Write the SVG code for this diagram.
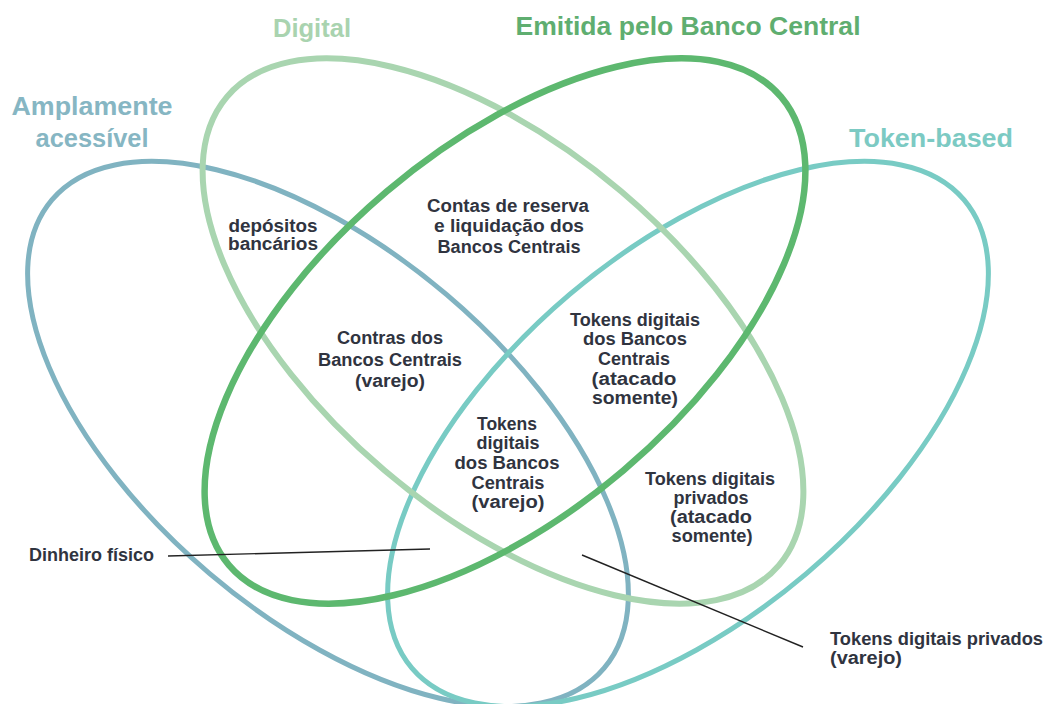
<svg xmlns="http://www.w3.org/2000/svg" width="1051" height="704" viewBox="0 0 1051 704">
<style>
.set{fill:none}
.title{font-family:"Liberation Sans",Arial,sans-serif;font-weight:bold;font-size:25px;text-anchor:middle}
.lbl{font-family:"Liberation Sans",Arial,sans-serif;font-weight:bold;font-size:17.5px;fill:#30343f;text-anchor:middle}
.lbl-l{text-anchor:start}
.ptr{stroke:#222;stroke-width:1.4;fill:none}
</style>
<rect width="1051" height="704" fill="#fff"/>
<g id="set-amplamente">
<ellipse class="set" cx="328" cy="434" rx="362" ry="183" transform="rotate(40.3 328 434)" stroke="#80b3c1" stroke-width="5"/>
<text class="title" fill="#86b6c3" x="92" y="115" textLength="161" lengthAdjust="spacingAndGlyphs">Amplamente</text>
<text class="title" fill="#86b6c3" x="92" y="147" textLength="113" lengthAdjust="spacingAndGlyphs">acessível</text>
</g>
<g id="set-token-based">
<ellipse class="set" cx="688" cy="434" rx="362" ry="183" transform="rotate(-40.3 688 434)" stroke="#78cbc4" stroke-width="5"/>
<text class="title" fill="#7ccac3" x="931" y="147" textLength="164" lengthAdjust="spacingAndGlyphs">Token-based</text>
</g>
<g id="set-digital">
<ellipse class="set" cx="503" cy="331" rx="362" ry="183" transform="rotate(40.3 503 331)" stroke="#a9d5b0" stroke-width="6"/>
<text class="title" fill="#a9d3af" x="312" y="37" textLength="78" lengthAdjust="spacingAndGlyphs">Digital</text>
</g>
<g id="set-banco-central">
<ellipse class="set" cx="505" cy="331" rx="362" ry="183" transform="rotate(-40.3 505 331)" stroke="#5db86f" stroke-width="6.5"/>
<text class="title" fill="#5fae70" x="688" y="35" textLength="345" lengthAdjust="spacingAndGlyphs">Emitida pelo Banco Central</text>
</g>
<g id="connectors">
<line class="ptr" x1="168" y1="556" x2="430" y2="549"/>
<line class="ptr" x1="582" y1="555" x2="803" y2="647"/>
</g>
<g id="label-depositos">
<text class="lbl" x="273" y="232" textLength="89" lengthAdjust="spacingAndGlyphs">depósitos</text>
<text class="lbl" x="273" y="250" textLength="90" lengthAdjust="spacingAndGlyphs">bancários</text>
</g>
<g id="label-contas-reserva">
<text class="lbl" x="508" y="212" textLength="162" lengthAdjust="spacingAndGlyphs">Contas de reserva</text>
<text class="lbl" x="509" y="232" textLength="150" lengthAdjust="spacingAndGlyphs">e liquidação dos</text>
<text class="lbl" x="509" y="253" textLength="143" lengthAdjust="spacingAndGlyphs">Bancos Centrais</text>
</g>
<g id="label-contras">
<text class="lbl" x="390" y="344" textLength="106" lengthAdjust="spacingAndGlyphs">Contras dos</text>
<text class="lbl" x="390" y="366" textLength="144" lengthAdjust="spacingAndGlyphs">Bancos Centrais</text>
<text class="lbl" x="390" y="387" textLength="70" lengthAdjust="spacingAndGlyphs">(varejo)</text>
</g>
<g id="label-tokens-bc-atacado">
<text class="lbl" x="635" y="326" textLength="130" lengthAdjust="spacingAndGlyphs">Tokens digitais</text>
<text class="lbl" x="635" y="345" textLength="104" lengthAdjust="spacingAndGlyphs">dos Bancos</text>
<text class="lbl" x="634" y="365" textLength="72" lengthAdjust="spacingAndGlyphs">Centrais</text>
<text class="lbl" x="634" y="385" textLength="85" lengthAdjust="spacingAndGlyphs">(atacado</text>
<text class="lbl" x="635" y="404" textLength="86" lengthAdjust="spacingAndGlyphs">somente)</text>
</g>
<g id="label-tokens-bc-varejo">
<text class="lbl" x="507" y="430" textLength="60" lengthAdjust="spacingAndGlyphs">Tokens</text>
<text class="lbl" x="508" y="449" textLength="63" lengthAdjust="spacingAndGlyphs">digitais</text>
<text class="lbl" x="507" y="469" textLength="105" lengthAdjust="spacingAndGlyphs">dos Bancos</text>
<text class="lbl" x="508" y="489" textLength="73" lengthAdjust="spacingAndGlyphs">Centrais</text>
<text class="lbl" x="508" y="508" textLength="73" lengthAdjust="spacingAndGlyphs">(varejo)</text>
</g>
<g id="label-tokens-privados-atacado">
<text class="lbl" x="710" y="485" textLength="130" lengthAdjust="spacingAndGlyphs">Tokens digitais</text>
<text class="lbl" x="711" y="504" textLength="75" lengthAdjust="spacingAndGlyphs">privados</text>
<text class="lbl" x="711" y="523" textLength="82" lengthAdjust="spacingAndGlyphs">(atacado</text>
<text class="lbl" x="712" y="542" textLength="81" lengthAdjust="spacingAndGlyphs">somente)</text>
</g>
<g id="label-dinheiro">
<text class="lbl lbl-l" x="29" y="561" textLength="125" lengthAdjust="spacingAndGlyphs">Dinheiro físico</text>
</g>
<g id="label-tokens-privados-varejo">
<text class="lbl lbl-l" x="830" y="645" textLength="213" lengthAdjust="spacingAndGlyphs">Tokens digitais privados</text>
<text class="lbl lbl-l" x="830" y="664" textLength="72" lengthAdjust="spacingAndGlyphs">(varejo)</text>
</g>
</svg>
